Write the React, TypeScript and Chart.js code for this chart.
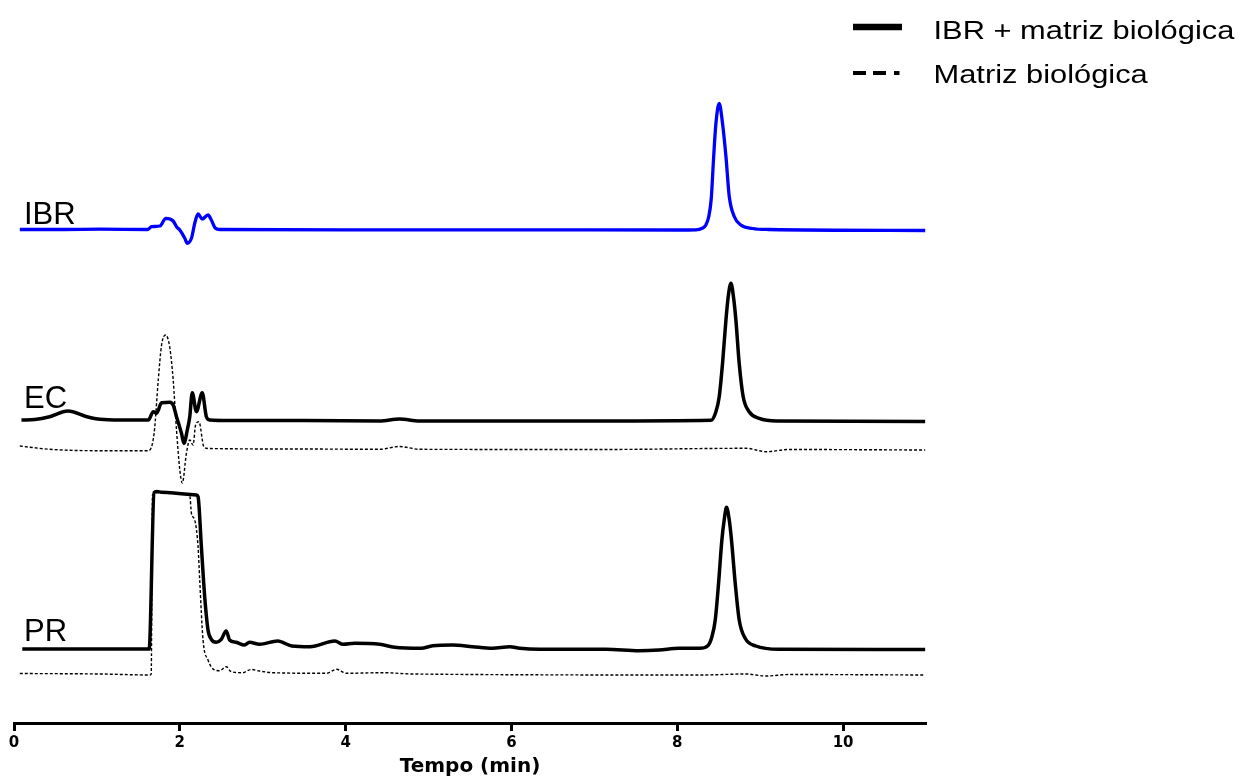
import React, { useEffect, useRef } from "react";
import { Chart, registerables } from "chart.js";

Chart.register(...registerables);

// Retention time (min) / detector response pairs for each chromatogram.
const ibrTrace: [number, number][] = [
  [0.07, 0], [0.6, 0], [1.04, 0.3], [1.61, 0], [1.66, 2.8], [1.76, 3.5], [1.83, 11.2],
  [1.92, 8.5], [1.96, 2.8], [2.0, -0.5], [2.06, -8.8], [2.09, -13.8], [2.14, -8.8],
  [2.18, 6.2], [2.22, 15.5], [2.27, 10.5], [2.34, 14.5], [2.38, 9.5], [2.43, 1.2],
  [2.48, 0], [4.0, -0.3], [6.0, -0.3], [8.0, -0.5], [8.225, -0.3], [8.3, 1.2], [8.345, 4.5],
  [8.38, 13], [8.41, 31], [8.437, 70], [8.466, 106], [8.506, 126], [8.546, 106],
  [8.587, 73], [8.627, 33], [8.687, 13], [8.767, 4.5], [8.907, 1], [9.1, 0], [10.99, -1],
];

const ecTrace: [number, number][] = [
  [0.09, 0], [0.25, 0.5], [0.43, 3.3], [0.65, 9], [0.88, 3.3], [1.04, 0.7], [1.28, 0],
  [1.62, 0], [1.68, 8.3], [1.72, 6.7], [1.78, 17.3], [1.88, 17.7], [1.92, 15], [1.96, 3.3],
  [2.02, -13.3], [2.05, -23.3], [2.09, -10], [2.12, 3.3], [2.15, 27.3], [2.2, 8.3],
  [2.27, 27.3], [2.32, 3.3], [2.36, 0], [2.6, -0.5], [3.5, -0.5], [4.41, -1], [4.65, 1],
  [4.89, -1], [6.0, -1], [7.06, -1], [8.406, -0.3], [8.466, 8.3], [8.506, 23.3],
  [8.546, 56.7], [8.587, 100], [8.614, 123], [8.647, 136.7], [8.678, 123], [8.707, 100],
  [8.747, 56.7], [8.795, 23.3], [8.867, 8.3], [8.988, 1.7], [9.2, -1], [10.99, -1.5],
];

const ecBlankTrace: [number, number][] = [
  [0.07, 4.5], [0.43, 1.2], [1.04, -0.2], [1.62, -0.2], [1.69, 17.2], [1.74, 70.5],
  [1.78, 105.5], [1.83, 115.5], [1.88, 102.5], [1.92, 70.5], [1.96, 20.5], [2.0, -19.5],
  [2.03, -32.5], [2.08, -2.5], [2.12, 10.5], [2.16, 5.5], [2.19, 25.5], [2.23, 28.8],
  [2.29, 3.8], [2.34, 2], [3.45, 1.5], [4.41, 1.2], [4.65, 4], [4.89, 1.2], [7.06, 1],
  [8.83, 2.2], [9.07, -1.2], [9.35, 1], [10.99, 0.5],
];

const prTrace: [number, number][] = [
  [0.1, 0], [1.04, 0], [1.63, 0], [1.69, 156.5], [1.72, 157.5], [1.78, 156.7], [2.2, 154],
  [2.22, 152.3], [2.26, 102.3], [2.3, 52.3], [2.34, 19], [2.38, 9.7], [2.44, 6.7],
  [2.5, 9.7], [2.56, 18], [2.6, 9], [2.68, 6.7], [2.78, 4], [2.84, 6.7], [2.96, 4.7],
  [3.18, 8], [3.35, 3], [3.57, 2.3], [3.87, 8], [3.97, 4.7], [4.11, 5.7], [4.41, 4.7],
  [4.59, 1.7], [4.91, 0.7], [5.05, 3.3], [5.29, 4], [5.53, 2.3], [5.77, 0.7], [5.98, 2.3],
  [6.1, 0.7], [6.34, -0.3], [7.14, -0.3], [7.54, -1.7], [7.78, -1], [8.02, 0.7],
  [8.27, 0.7], [8.365, 3], [8.418, 12.3], [8.458, 29], [8.498, 65.7], [8.538, 109],
  [8.566, 129], [8.594, 141.7], [8.627, 129], [8.654, 109], [8.699, 65.7], [8.747, 29],
  [8.819, 10.7], [8.948, 3], [9.23, -0.3], [10.99, -0.5],
];

const prBlankTrace: [number, number][] = [
  [0.07, 0.5], [1.04, 0], [1.64, -1], [1.655, 0], [1.67, 179], [1.76, 181.5],
  [2.12, 178.5], [2.14, 160.7], [2.18, 154], [2.22, 127.3], [2.24, 94], [2.28, 34],
  [2.34, 14], [2.42, 4], [2.48, 3.3], [2.56, 7.3], [2.62, 2.3], [2.76, 1.3], [2.86, 4.5],
  [2.96, 3], [3.12, 1.3], [3.77, 0.7], [3.89, 4.7], [4.01, 0.7], [4.45, 1.3], [4.81, 0],
  [8.27, -1], [8.83, 0], [9.07, -2], [9.35, -0.5], [10.99, -1],
];

const traceNames = ["IBR", "EC", "PR"];
const legendLabels = ["IBR + matriz biológica", "Matriz biológica"];
const axisTitle = "Tempo (min)";

// Vertical stacking of the chromatograms (baseline of each trace on the hidden y scale).
const stackBase = { ibr: 493.5, ec: 303, ecBlank: 272.5, pr: 74, prBlank: 49 };

const shift = (trace: [number, number][], base: number) =>
  trace.map(([t, v]) => ({ x: t, y: v + base }));

const labelPlugin = {
  id: "traceLabels",
  afterDraw(chart: any) {
    const ctx = chart.ctx as CanvasRenderingContext2D;
    const yScale = chart.scales.y;
    ctx.save();
    ctx.fillStyle = "#000";
    ctx.textBaseline = "alphabetic";
    ctx.textAlign = "left";

    // Trace names sitting just above each baseline
    ctx.font = '31px "Liberation Sans", Arial, sans-serif';
    const bases = [stackBase.ibr, stackBase.ec, stackBase.pr];
    const gaps = [5.5, 12.5, 8.5];
    traceNames.forEach((name, i) => {
      ctx.fillText(name, 24, yScale.getPixelForValue(bases[i]) - gaps[i]);
    });

    // Legend
    ctx.strokeStyle = "#000";
    ctx.lineCap = "butt";
    ctx.lineWidth = 6.5;
    ctx.beginPath();
    ctx.moveTo(853, 27);
    ctx.lineTo(902, 27);
    ctx.stroke();

    ctx.lineWidth = 4;
    ctx.beginPath();
    [[853, 866], [873, 886], [894, 899.5]].forEach(([a, b]) => {
      ctx.moveTo(a, 73);
      ctx.lineTo(b, 73);
    });
    ctx.stroke();

    ctx.font = '25.6px "Liberation Sans", Arial, sans-serif';
    const baselines = [39, 83];
    legendLabels.forEach((label, i) => {
      ctx.save();
      ctx.translate(933.5, baselines[i]);
      ctx.scale(1.205, 1);
      ctx.fillText(label, 0, 0);
      ctx.restore();
    });
    ctx.restore();
  },
};

export default function App() {
  const canvasRef = useRef<HTMLCanvasElement | null>(null);

  useEffect(() => {
    if (!canvasRef.current) return;
    const solid = {
      borderColor: "#000",
      borderWidth: 3.5,
      pointRadius: 0,
      cubicInterpolationMode: "monotone" as const,
      borderJoinStyle: "round" as const,
      fill: false,
    };
    const dashed = {
      borderColor: "#000",
      borderWidth: 1.4,
      borderDash: [3, 2],
      pointRadius: 0,
      cubicInterpolationMode: "monotone" as const,
      fill: false,
    };
    const chart = new Chart(canvasRef.current, {
      type: "line",
      data: {
        datasets: [
          { label: "IBR", data: shift(ibrTrace, stackBase.ibr), ...solid, borderColor: "#0000ff", borderWidth: 3.3 },
          { label: "EC", data: shift(ecTrace, stackBase.ec), ...solid },
          { label: "PR", data: shift(prTrace, stackBase.pr), ...solid },
          { label: "EC matriz", data: shift(ecBlankTrace, stackBase.ecBlank), ...dashed },
          { label: "PR matriz", data: shift(prBlankTrace, stackBase.prBlank), ...dashed },
        ],
      },
      options: {
        responsive: false,
        devicePixelRatio: 1,
        animation: false,
        layout: { padding: { left: 14, right: 315, top: 90, bottom: 1 } },
        plugins: { legend: { display: false }, tooltip: { enabled: false }, title: { display: false } },
        scales: {
          x: {
            type: "linear",
            min: 0,
            max: 11,
            ticks: {
              stepSize: 2,
              includeBounds: false,
              color: "#000",
              padding: 3,
              maxRotation: 0,
              font: { family: "DejaVu Sans", weight: "bold", size: 15, lineHeight: 1.2 },
            },
            grid: {
              drawOnChartArea: false,
              drawTicks: true,
              tickLength: 8,
              tickWidth: 3,
              tickColor: "#000",
            },
            border: { display: true, color: "#000", width: 3 },
            title: {
              display: true,
              text: axisTitle,
              color: "#000",
              padding: { top: 2, bottom: 0 },
              font: { family: "DejaVu Sans", weight: "bold", size: 20, lineHeight: 1.0 },
            },
          },
          y: { type: "linear", display: false, min: 0, max: 633 },
        },
      },
      plugins: [labelPlugin],
    });
    return () => chart.destroy();
  }, []);

  return (
    <div style={{ position: "fixed", left: 0, top: 0, width: 1241, height: 778, background: "#fff" }}>
      <canvas ref={canvasRef} width={1241} height={778} style={{ display: "block" }} />
    </div>
  );
}
